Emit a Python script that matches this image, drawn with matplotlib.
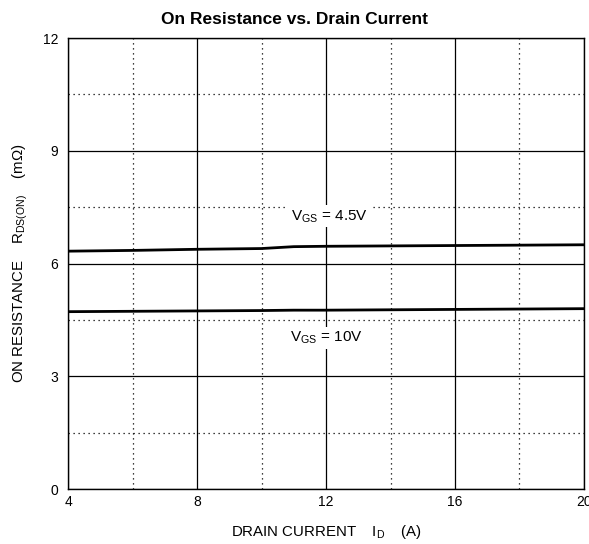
import numpy as np
import matplotlib.pyplot as plt

plt.rcParams['font.family'] = ['Liberation Sans', 'DejaVu Sans']
plt.rcParams['mathtext.fontset'] = 'custom'
plt.rcParams['mathtext.rm'] = 'Liberation Sans'

# drain current (A) and on resistance (mOhm)
id_a = [4, 6, 8, 10, 11, 12, 14, 16, 18, 20]
r_45v = [6.33, 6.35, 6.38, 6.40, 6.45, 6.46, 6.47, 6.48, 6.49, 6.50]
r_10v = [4.72, 4.73, 4.74, 4.75, 4.76, 4.76, 4.77, 4.78, 4.79, 4.80]

fig = plt.figure(figsize=(5.89, 5.44), dpi=100)
ax = fig.add_axes([0.1155, 0.101, 0.876, 0.829])

ax.set_xlim(4, 20)
ax.set_ylim(0, 12)
ax.set_xticks(np.arange(4, 21, 4))
ax.set_yticks(np.arange(0, 13, 3))
ax.set_xticks(np.arange(6, 20, 4), minor=True)
ax.set_yticks(np.arange(1.5, 12, 3), minor=True)
ax.grid(which='major', color='black', linestyle='-', linewidth=0.9)
ax.grid(which='minor', color='black', linestyle=(0, (1, 3)), linewidth=0.9)
ax.tick_params(which='both', length=0, labelsize=10)
ax.tick_params(axis='x', pad=4)
ax.tick_params(axis='y', pad=7)
for s in ax.spines.values():
    s.set_linewidth(1.0)

ax.plot(id_a, r_45v, color='black', linewidth=2.0, zorder=3)
ax.plot(id_a, r_10v, color='black', linewidth=2.0, zorder=3)

box = dict(facecolor='white', edgecolor='none', pad=2)
ax.text(12.1, 7.26, r'V$_{\mathregular{GS}}$ = 4.5V', ha='center', va='center', fontsize=11, bbox=box, zorder=4)
ax.text(12.0, 4.02, r'V$_{\mathregular{GS}}$ = 10V', ha='center', va='center', fontsize=11, bbox=box, zorder=4)

fig.text(0.5, 0.964, 'On Resistance vs. Drain Current', ha='center', va='center', fontsize=12.5, fontweight='bold')
ax.set_xlabel(r'DRAIN CURRENT    I$_{\mathregular{D}}$    (A)', fontsize=10.8, labelpad=10)
ax.set_ylabel(r'ON RESISTANCE    R$_{\mathregular{DS(ON)}}$    (mΩ)', fontsize=10.8, labelpad=9)

fig.savefig('out.png', dpi=100)
